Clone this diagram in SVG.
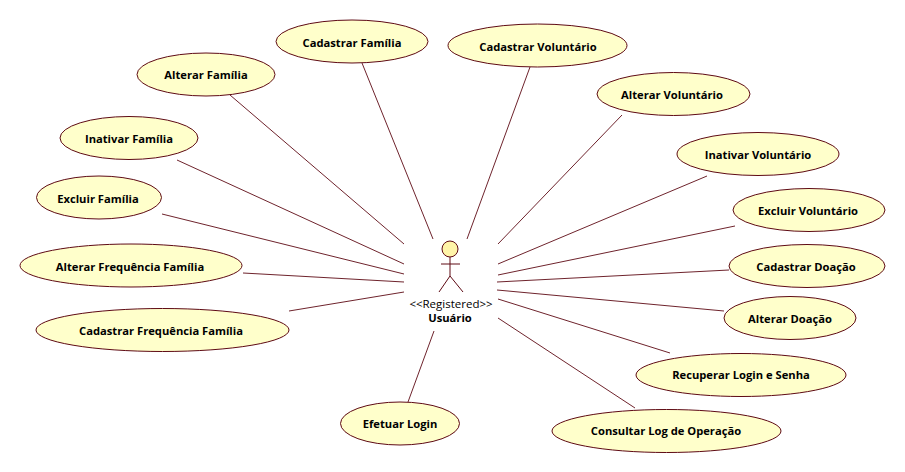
<svg xmlns="http://www.w3.org/2000/svg" width="905" height="472" viewBox="0 0 905 472">
<style>
text{font-family:"Open Sans","DejaVu Sans",sans-serif;font-size:11.2px;text-anchor:middle;fill:#000}
.u text{font-weight:700}
.u ellipse{fill:#ffffcb;stroke:#5e0a14;stroke-width:1}
#connectors line{stroke:#5e0a14;stroke-width:.9}
#actor line{stroke:#5e0a14;stroke-width:1}
</style>
<rect width="905" height="472" fill="#fff"/>
<g id="connectors">
<line x1="362" y1="63" x2="433" y2="239"/>
<line x1="530" y1="67" x2="467" y2="239"/>
<line x1="230" y1="95" x2="404" y2="244"/>
<line x1="622" y1="115" x2="498" y2="244"/>
<line x1="177" y1="160" x2="404" y2="264"/>
<line x1="707" y1="176" x2="498" y2="264"/>
<line x1="162" y1="214" x2="404" y2="274"/>
<line x1="735" y1="226" x2="498" y2="275"/>
<line x1="243" y1="273" x2="404" y2="282"/>
<line x1="729" y1="270" x2="497" y2="282"/>
<line x1="289" y1="311" x2="404" y2="292"/>
<line x1="724" y1="311" x2="497" y2="290"/>
<line x1="670" y1="353" x2="498" y2="299"/>
<line x1="635" y1="408" x2="498" y2="318"/>
<line x1="408" y1="402" x2="434" y2="331"/>
</g>
<g id="cadastrar-familia" class="u"><ellipse cx="352" cy="41.5" rx="76" ry="21.5"/><text x="352" y="47">Cadastrar Família</text></g>
<g id="cadastrar-voluntario" class="u"><ellipse cx="537.5" cy="45.5" rx="89.5" ry="21.5"/><text x="538" y="51">Cadastrar Voluntário</text></g>
<g id="alterar-familia" class="u"><ellipse cx="206" cy="74.5" rx="69" ry="21.5"/><text x="206" y="79">Alterar Família</text></g>
<g id="alterar-voluntario" class="u"><ellipse cx="673.5" cy="94" rx="76.5" ry="21.5"/><text x="672" y="99">Alterar Voluntário</text></g>
<g id="inativar-familia" class="u"><ellipse cx="129" cy="138" rx="69" ry="21.5"/><text x="129" y="143">Inativar Família</text></g>
<g id="inativar-voluntario" class="u"><ellipse cx="758" cy="154" rx="81" ry="21.5"/><text x="758" y="159">Inativar Voluntário</text></g>
<g id="excluir-familia" class="u"><ellipse cx="99" cy="197.5" rx="62.5" ry="21.5"/><text x="98" y="203">Excluir Família</text></g>
<g id="excluir-voluntario" class="u"><ellipse cx="809" cy="210" rx="76" ry="21.5"/><text x="808" y="215">Excluir Voluntário</text></g>
<g id="alterar-frequencia" class="u"><ellipse cx="131" cy="265.5" rx="111" ry="21.5"/><text x="130" y="271">Alterar Frequência Família</text></g>
<g id="cadastrar-doacao" class="u"><ellipse cx="807" cy="266" rx="78" ry="21.5"/><text x="806" y="271">Cadastrar Doação</text></g>
<g id="alterar-doacao" class="u"><ellipse cx="790" cy="318" rx="66" ry="21.5"/><text x="790" y="323">Alterar Doação</text></g>
<g id="cadastrar-frequencia" class="u"><ellipse cx="162.5" cy="330" rx="126.5" ry="21.5"/><text x="161" y="335">Cadastrar Frequência Família</text></g>
<g id="recuperar-login" class="u"><ellipse cx="741" cy="375" rx="105" ry="21.5"/><text x="741" y="379">Recuperar Login e Senha</text></g>
<g id="efetuar-login" class="u"><ellipse cx="400" cy="423.5" rx="59.5" ry="21.5"/><text x="400" y="428">Efetuar Login</text></g>
<g id="consultar-log" class="u"><ellipse cx="666.5" cy="431" rx="114.5" ry="21.5"/><text x="666" y="435">Consultar Log de Operação</text></g>
<g id="actor">
<circle cx="450" cy="249" r="8" fill="#fff4a8" stroke="#5e0a14" stroke-width="1"/>
<line x1="450" y1="257" x2="450" y2="276"/>
<line x1="441" y1="264" x2="460" y2="264"/>
<line x1="450" y1="276" x2="439" y2="292"/>
<line x1="450" y1="276" x2="463" y2="292"/>
<text x="451" y="308" style="font-weight:400;font-size:11.5px">&lt;&lt;Registered&gt;&gt;</text>
<text x="450" y="322" style="font-weight:700">Usuário</text>
</g>
</svg>
